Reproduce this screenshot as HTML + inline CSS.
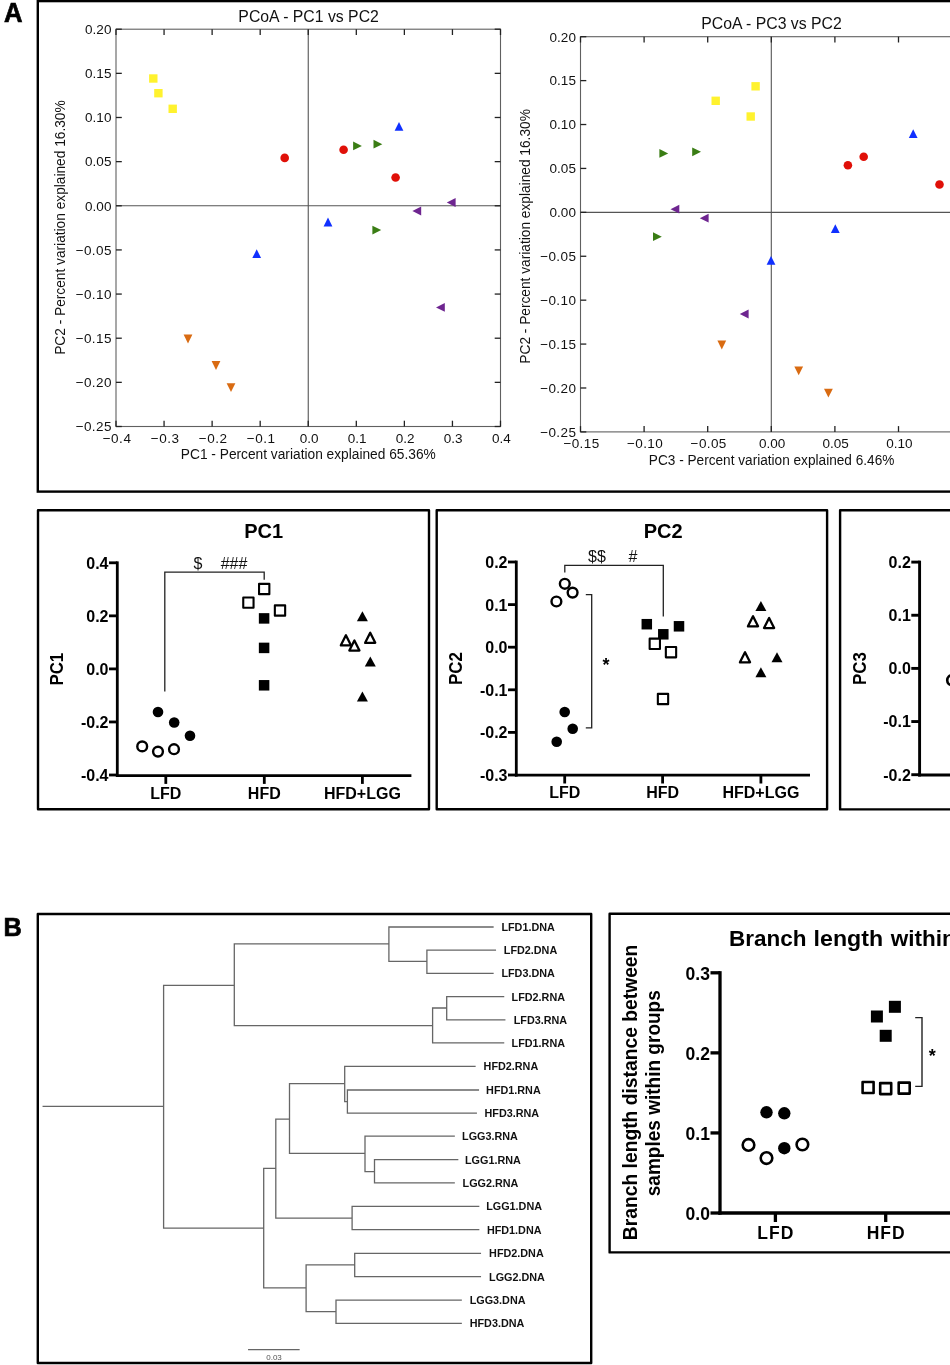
<!DOCTYPE html>
<html><head><meta charset="utf-8"><style>
html,body{margin:0;padding:0;background:#fff;width:950px;height:1365px;overflow:hidden}
svg{display:block;will-change:transform}
text{font-family:"Liberation Sans", sans-serif;fill:#000;-webkit-font-smoothing:antialiased}
.mt{font-size:13.5px;fill:#111}
.ml{font-size:14px;fill:#111}
.mtitle{font-size:15.8px;fill:#111}
.plabel{font-size:26.5px;font-weight:bold;stroke:#000;stroke-width:0.7px}
.pt{font-size:16px;font-weight:bold}
.pyl{font-size:17.5px;font-weight:bold}
.ptitle{font-size:20px;font-weight:bold}
.sig{font-size:16px;fill:#111}
.sig2{font-size:18px;fill:#000;font-weight:bold}
.leaf{font-size:10.8px;font-weight:bold;fill:#111}
.scl{font-size:8px;fill:#555}
.bt{font-size:17.5px;font-weight:bold}
.btitle{font-size:22.5px;font-weight:bold}
.byl{font-size:20.5px;font-weight:bold}
</style></head><body>
<svg width="950" height="1365" viewBox="0 0 950 1365">
<rect width="950" height="1365" fill="#fff"/>
<rect x="37.8" y="1.1" width="940" height="490.5" fill="none" stroke="#000" stroke-width="2.4"/>
<text x="4.0" y="21.5" class="plabel" textLength="18.5" lengthAdjust="spacingAndGlyphs" style="font-size:27.2px">A</text>
<rect x="116" y="29.2" width="384.5" height="397.3" fill="none" stroke="#606060" stroke-width="1.1"/>
<line x1="308.25" y1="29.2" x2="308.25" y2="426.5" stroke="#555" stroke-width="1.1"/>
<line x1="116" y1="205.77777777777777" x2="500.5" y2="205.77777777777777" stroke="#555" stroke-width="1.1"/>
<line x1="116.0" y1="426.5" x2="116.0" y2="420.7" stroke="#222" stroke-width="1.3"/>
<line x1="116.0" y1="29.2" x2="116.0" y2="35.0" stroke="#222" stroke-width="1.3"/>
<line x1="164.0625" y1="426.5" x2="164.0625" y2="420.7" stroke="#222" stroke-width="1.3"/>
<line x1="164.0625" y1="29.2" x2="164.0625" y2="35.0" stroke="#222" stroke-width="1.3"/>
<line x1="212.125" y1="426.5" x2="212.125" y2="420.7" stroke="#222" stroke-width="1.3"/>
<line x1="212.125" y1="29.2" x2="212.125" y2="35.0" stroke="#222" stroke-width="1.3"/>
<line x1="260.1875" y1="426.5" x2="260.1875" y2="420.7" stroke="#222" stroke-width="1.3"/>
<line x1="260.1875" y1="29.2" x2="260.1875" y2="35.0" stroke="#222" stroke-width="1.3"/>
<line x1="308.25" y1="426.5" x2="308.25" y2="420.7" stroke="#222" stroke-width="1.3"/>
<line x1="308.25" y1="29.2" x2="308.25" y2="35.0" stroke="#222" stroke-width="1.3"/>
<line x1="356.3125" y1="426.5" x2="356.3125" y2="420.7" stroke="#222" stroke-width="1.3"/>
<line x1="356.3125" y1="29.2" x2="356.3125" y2="35.0" stroke="#222" stroke-width="1.3"/>
<line x1="404.375" y1="426.5" x2="404.375" y2="420.7" stroke="#222" stroke-width="1.3"/>
<line x1="404.375" y1="29.2" x2="404.375" y2="35.0" stroke="#222" stroke-width="1.3"/>
<line x1="452.4375" y1="426.5" x2="452.4375" y2="420.7" stroke="#222" stroke-width="1.3"/>
<line x1="452.4375" y1="29.2" x2="452.4375" y2="35.0" stroke="#222" stroke-width="1.3"/>
<line x1="500.5" y1="426.5" x2="500.5" y2="420.7" stroke="#222" stroke-width="1.3"/>
<line x1="500.5" y1="29.2" x2="500.5" y2="35.0" stroke="#222" stroke-width="1.3"/>
<line x1="116" y1="29.2" x2="121.8" y2="29.2" stroke="#222" stroke-width="1.3"/>
<line x1="500.5" y1="29.2" x2="494.7" y2="29.2" stroke="#222" stroke-width="1.3"/>
<line x1="116" y1="73.34444444444445" x2="121.8" y2="73.34444444444445" stroke="#222" stroke-width="1.3"/>
<line x1="500.5" y1="73.34444444444445" x2="494.7" y2="73.34444444444445" stroke="#222" stroke-width="1.3"/>
<line x1="116" y1="117.4888888888889" x2="121.8" y2="117.4888888888889" stroke="#222" stroke-width="1.3"/>
<line x1="500.5" y1="117.4888888888889" x2="494.7" y2="117.4888888888889" stroke="#222" stroke-width="1.3"/>
<line x1="116" y1="161.63333333333333" x2="121.8" y2="161.63333333333333" stroke="#222" stroke-width="1.3"/>
<line x1="500.5" y1="161.63333333333333" x2="494.7" y2="161.63333333333333" stroke="#222" stroke-width="1.3"/>
<line x1="116" y1="205.77777777777777" x2="121.8" y2="205.77777777777777" stroke="#222" stroke-width="1.3"/>
<line x1="500.5" y1="205.77777777777777" x2="494.7" y2="205.77777777777777" stroke="#222" stroke-width="1.3"/>
<line x1="116" y1="249.92222222222222" x2="121.8" y2="249.92222222222222" stroke="#222" stroke-width="1.3"/>
<line x1="500.5" y1="249.92222222222222" x2="494.7" y2="249.92222222222222" stroke="#222" stroke-width="1.3"/>
<line x1="116" y1="294.06666666666666" x2="121.8" y2="294.06666666666666" stroke="#222" stroke-width="1.3"/>
<line x1="500.5" y1="294.06666666666666" x2="494.7" y2="294.06666666666666" stroke="#222" stroke-width="1.3"/>
<line x1="116" y1="338.2111111111111" x2="121.8" y2="338.2111111111111" stroke="#222" stroke-width="1.3"/>
<line x1="500.5" y1="338.2111111111111" x2="494.7" y2="338.2111111111111" stroke="#222" stroke-width="1.3"/>
<line x1="116" y1="382.35555555555555" x2="121.8" y2="382.35555555555555" stroke="#222" stroke-width="1.3"/>
<line x1="500.5" y1="382.35555555555555" x2="494.7" y2="382.35555555555555" stroke="#222" stroke-width="1.3"/>
<line x1="116" y1="426.5" x2="121.8" y2="426.5" stroke="#222" stroke-width="1.3"/>
<line x1="500.5" y1="426.5" x2="494.7" y2="426.5" stroke="#222" stroke-width="1.3"/>
<text x="116.8" y="442.5" text-anchor="middle" class="mt" textLength="28.25" lengthAdjust="spacing">−0.4</text>
<text x="164.8625" y="442.5" text-anchor="middle" class="mt" textLength="28.25" lengthAdjust="spacing">−0.3</text>
<text x="212.925" y="442.5" text-anchor="middle" class="mt" textLength="28.25" lengthAdjust="spacing">−0.2</text>
<text x="260.9875" y="442.5" text-anchor="middle" class="mt" textLength="28.25" lengthAdjust="spacing">−0.1</text>
<text x="309.05" y="442.5" text-anchor="middle" class="mt">0.0</text>
<text x="357.1125" y="442.5" text-anchor="middle" class="mt">0.1</text>
<text x="405.175" y="442.5" text-anchor="middle" class="mt">0.2</text>
<text x="453.2375" y="442.5" text-anchor="middle" class="mt">0.3</text>
<text x="501.3" y="442.5" text-anchor="middle" class="mt">0.4</text>
<text x="111.4" y="34.0" text-anchor="end" class="mt">0.20</text>
<text x="111.4" y="78.14444444444445" text-anchor="end" class="mt">0.15</text>
<text x="111.4" y="122.28888888888889" text-anchor="end" class="mt">0.10</text>
<text x="111.4" y="166.43333333333334" text-anchor="end" class="mt">0.05</text>
<text x="111.4" y="210.57777777777778" text-anchor="end" class="mt">0.00</text>
<text x="111.4" y="254.72222222222223" text-anchor="end" class="mt" textLength="35.76" lengthAdjust="spacing">−0.05</text>
<text x="111.4" y="298.8666666666667" text-anchor="end" class="mt" textLength="35.76" lengthAdjust="spacing">−0.10</text>
<text x="111.4" y="343.0111111111111" text-anchor="end" class="mt" textLength="35.76" lengthAdjust="spacing">−0.15</text>
<text x="111.4" y="387.15555555555557" text-anchor="end" class="mt" textLength="35.76" lengthAdjust="spacing">−0.20</text>
<text x="111.4" y="431.3" text-anchor="end" class="mt" textLength="35.76" lengthAdjust="spacing">−0.25</text>
<text x="308.6" y="21.6" text-anchor="middle" class="mtitle">PCoA - PC1 vs PC2</text>
<text x="308.3" y="458.6" text-anchor="middle" class="ml" textLength="255" lengthAdjust="spacingAndGlyphs">PC1 - Percent variation explained 65.36%</text>
<text x="64.7" y="227.6" text-anchor="middle" class="ml" textLength="254.5" lengthAdjust="spacingAndGlyphs" transform="rotate(-90 64.7 227.6)">PC2 - Percent variation explained 16.30%</text>
<rect x="149.10" y="74.30" width="8.4" height="8.4" fill="#fff22e"/>
<rect x="154.20" y="89.00" width="8.4" height="8.4" fill="#fff22e"/>
<rect x="168.50" y="104.60" width="8.4" height="8.4" fill="#fff22e"/>
<circle cx="284.7" cy="157.9" r="4.3" fill="#e01008"/>
<circle cx="343.6" cy="149.7" r="4.3" fill="#e01008"/>
<circle cx="395.6" cy="177.5" r="4.3" fill="#e01008"/>
<polygon points="361.90,145.90 353.10,141.50 353.10,150.30" fill="#3a7d14"/>
<polygon points="382.30,144.20 373.50,139.80 373.50,148.60" fill="#3a7d14"/>
<polygon points="381.20,230.10 372.40,225.70 372.40,234.50" fill="#3a7d14"/>
<polygon points="399.00,121.90 394.60,130.70 403.40,130.70" fill="#1030ff"/>
<polygon points="328.00,217.60 323.60,226.40 332.40,226.40" fill="#1030ff"/>
<polygon points="256.70,249.30 252.30,258.10 261.10,258.10" fill="#1030ff"/>
<polygon points="446.80,202.50 455.60,198.10 455.60,206.90" fill="#6e2590"/>
<polygon points="412.40,211.00 421.20,206.60 421.20,215.40" fill="#6e2590"/>
<polygon points="436.00,307.40 444.80,303.00 444.80,311.80" fill="#6e2590"/>
<polygon points="188.00,343.40 183.60,334.60 192.40,334.60" fill="#d96b12"/>
<polygon points="216.00,369.90 211.60,361.10 220.40,361.10" fill="#d96b12"/>
<polygon points="231.00,392.10 226.60,383.30 235.40,383.30" fill="#d96b12"/>
<rect x="580.5" y="36.7" width="381.6" height="395.2" fill="none" stroke="#606060" stroke-width="1.1"/>
<line x1="771.3" y1="36.7" x2="771.3" y2="431.9" stroke="#555" stroke-width="1.1"/>
<line x1="580.5" y1="212.34444444444443" x2="962.1" y2="212.34444444444443" stroke="#555" stroke-width="1.1"/>
<line x1="580.5" y1="431.9" x2="580.5" y2="426.09999999999997" stroke="#222" stroke-width="1.3"/>
<line x1="580.5" y1="36.7" x2="580.5" y2="42.5" stroke="#222" stroke-width="1.3"/>
<line x1="644.1" y1="431.9" x2="644.1" y2="426.09999999999997" stroke="#222" stroke-width="1.3"/>
<line x1="644.1" y1="36.7" x2="644.1" y2="42.5" stroke="#222" stroke-width="1.3"/>
<line x1="707.7" y1="431.9" x2="707.7" y2="426.09999999999997" stroke="#222" stroke-width="1.3"/>
<line x1="707.7" y1="36.7" x2="707.7" y2="42.5" stroke="#222" stroke-width="1.3"/>
<line x1="771.3" y1="431.9" x2="771.3" y2="426.09999999999997" stroke="#222" stroke-width="1.3"/>
<line x1="771.3" y1="36.7" x2="771.3" y2="42.5" stroke="#222" stroke-width="1.3"/>
<line x1="834.9" y1="431.9" x2="834.9" y2="426.09999999999997" stroke="#222" stroke-width="1.3"/>
<line x1="834.9" y1="36.7" x2="834.9" y2="42.5" stroke="#222" stroke-width="1.3"/>
<line x1="898.5" y1="431.9" x2="898.5" y2="426.09999999999997" stroke="#222" stroke-width="1.3"/>
<line x1="898.5" y1="36.7" x2="898.5" y2="42.5" stroke="#222" stroke-width="1.3"/>
<line x1="962.1" y1="431.9" x2="962.1" y2="426.09999999999997" stroke="#222" stroke-width="1.3"/>
<line x1="962.1" y1="36.7" x2="962.1" y2="42.5" stroke="#222" stroke-width="1.3"/>
<line x1="580.5" y1="36.7" x2="586.3" y2="36.7" stroke="#222" stroke-width="1.3"/>
<line x1="962.1" y1="36.7" x2="956.3000000000001" y2="36.7" stroke="#222" stroke-width="1.3"/>
<line x1="580.5" y1="80.61111111111111" x2="586.3" y2="80.61111111111111" stroke="#222" stroke-width="1.3"/>
<line x1="962.1" y1="80.61111111111111" x2="956.3000000000001" y2="80.61111111111111" stroke="#222" stroke-width="1.3"/>
<line x1="580.5" y1="124.52222222222223" x2="586.3" y2="124.52222222222223" stroke="#222" stroke-width="1.3"/>
<line x1="962.1" y1="124.52222222222223" x2="956.3000000000001" y2="124.52222222222223" stroke="#222" stroke-width="1.3"/>
<line x1="580.5" y1="168.43333333333334" x2="586.3" y2="168.43333333333334" stroke="#222" stroke-width="1.3"/>
<line x1="962.1" y1="168.43333333333334" x2="956.3000000000001" y2="168.43333333333334" stroke="#222" stroke-width="1.3"/>
<line x1="580.5" y1="212.34444444444443" x2="586.3" y2="212.34444444444443" stroke="#222" stroke-width="1.3"/>
<line x1="962.1" y1="212.34444444444443" x2="956.3000000000001" y2="212.34444444444443" stroke="#222" stroke-width="1.3"/>
<line x1="580.5" y1="256.25555555555553" x2="586.3" y2="256.25555555555553" stroke="#222" stroke-width="1.3"/>
<line x1="962.1" y1="256.25555555555553" x2="956.3000000000001" y2="256.25555555555553" stroke="#222" stroke-width="1.3"/>
<line x1="580.5" y1="300.16666666666663" x2="586.3" y2="300.16666666666663" stroke="#222" stroke-width="1.3"/>
<line x1="962.1" y1="300.16666666666663" x2="956.3000000000001" y2="300.16666666666663" stroke="#222" stroke-width="1.3"/>
<line x1="580.5" y1="344.0777777777778" x2="586.3" y2="344.0777777777778" stroke="#222" stroke-width="1.3"/>
<line x1="962.1" y1="344.0777777777778" x2="956.3000000000001" y2="344.0777777777778" stroke="#222" stroke-width="1.3"/>
<line x1="580.5" y1="387.9888888888889" x2="586.3" y2="387.9888888888889" stroke="#222" stroke-width="1.3"/>
<line x1="962.1" y1="387.9888888888889" x2="956.3000000000001" y2="387.9888888888889" stroke="#222" stroke-width="1.3"/>
<line x1="580.5" y1="431.9" x2="586.3" y2="431.9" stroke="#222" stroke-width="1.3"/>
<line x1="962.1" y1="431.9" x2="956.3000000000001" y2="431.9" stroke="#222" stroke-width="1.3"/>
<text x="581.3" y="447.9" text-anchor="middle" class="mt" textLength="35.76" lengthAdjust="spacing">−0.15</text>
<text x="644.9" y="447.9" text-anchor="middle" class="mt" textLength="35.76" lengthAdjust="spacing">−0.10</text>
<text x="708.5" y="447.9" text-anchor="middle" class="mt" textLength="35.76" lengthAdjust="spacing">−0.05</text>
<text x="772.0999999999999" y="447.9" text-anchor="middle" class="mt">0.00</text>
<text x="835.6999999999999" y="447.9" text-anchor="middle" class="mt">0.05</text>
<text x="899.3" y="447.9" text-anchor="middle" class="mt">0.10</text>
<text x="962.9" y="447.9" text-anchor="middle" class="mt">0.15</text>
<text x="575.9" y="41.5" text-anchor="end" class="mt">0.20</text>
<text x="575.9" y="85.41111111111111" text-anchor="end" class="mt">0.15</text>
<text x="575.9" y="129.32222222222222" text-anchor="end" class="mt">0.10</text>
<text x="575.9" y="173.23333333333335" text-anchor="end" class="mt">0.05</text>
<text x="575.9" y="217.14444444444445" text-anchor="end" class="mt">0.00</text>
<text x="575.9" y="261.05555555555554" text-anchor="end" class="mt" textLength="35.76" lengthAdjust="spacing">−0.05</text>
<text x="575.9" y="304.96666666666664" text-anchor="end" class="mt" textLength="35.76" lengthAdjust="spacing">−0.10</text>
<text x="575.9" y="348.8777777777778" text-anchor="end" class="mt" textLength="35.76" lengthAdjust="spacing">−0.15</text>
<text x="575.9" y="392.7888888888889" text-anchor="end" class="mt" textLength="35.76" lengthAdjust="spacing">−0.20</text>
<text x="575.9" y="436.7" text-anchor="end" class="mt" textLength="35.76" lengthAdjust="spacing">−0.25</text>
<text x="771.5" y="29.3" text-anchor="middle" class="mtitle">PCoA - PC3 vs PC2</text>
<text x="771.6" y="465.2" text-anchor="middle" class="ml" textLength="245.5" lengthAdjust="spacingAndGlyphs">PC3 - Percent variation explained 6.46%</text>
<text x="529.9" y="236.4" text-anchor="middle" class="ml" textLength="254.5" lengthAdjust="spacingAndGlyphs" transform="rotate(-90 529.9 236.4)">PC2 - Percent variation explained 16.30%</text>
<rect x="751.40" y="82.10" width="8.4" height="8.4" fill="#fff22e"/>
<rect x="711.50" y="96.60" width="8.4" height="8.4" fill="#fff22e"/>
<rect x="746.50" y="112.30" width="8.4" height="8.4" fill="#fff22e"/>
<polygon points="668.20,153.40 659.40,149.00 659.40,157.80" fill="#3a7d14"/>
<polygon points="701.00,151.80 692.20,147.40 692.20,156.20" fill="#3a7d14"/>
<polygon points="661.80,236.70 653.00,232.30 653.00,241.10" fill="#3a7d14"/>
<polygon points="670.50,209.20 679.30,204.80 679.30,213.60" fill="#6e2590"/>
<polygon points="699.80,218.20 708.60,213.80 708.60,222.60" fill="#6e2590"/>
<polygon points="739.80,314.00 748.60,309.60 748.60,318.40" fill="#6e2590"/>
<polygon points="913.20,129.30 908.80,138.10 917.60,138.10" fill="#1030ff"/>
<polygon points="835.30,224.30 830.90,233.10 839.70,233.10" fill="#1030ff"/>
<polygon points="771.00,255.90 766.60,264.70 775.40,264.70" fill="#1030ff"/>
<circle cx="847.9" cy="165.3" r="4.3" fill="#e01008"/>
<circle cx="863.7" cy="156.8" r="4.3" fill="#e01008"/>
<circle cx="939.5" cy="184.5" r="4.3" fill="#e01008"/>
<polygon points="721.80,349.40 717.40,340.60 726.20,340.60" fill="#d96b12"/>
<polygon points="798.70,375.20 794.30,366.40 803.10,366.40" fill="#d96b12"/>
<polygon points="828.40,397.60 824.00,388.80 832.80,388.80" fill="#d96b12"/>
<rect x="38.0" y="510.3" width="391.0" height="299.0" fill="none" stroke="#000" stroke-width="2.4" stroke-linejoin="round"/>
<rect x="436.7" y="510.3" width="390.4" height="299.0" fill="none" stroke="#000" stroke-width="2.4" stroke-linejoin="round"/>
<rect x="840.1" y="510.3" width="158.70000000000002" height="299.1" fill="none" stroke="#000" stroke-width="2.4" stroke-linejoin="round"/>
<line x1="117.3" y1="561.4" x2="117.3" y2="777.0" stroke="#000" stroke-width="2.8"/>
<line x1="115.89999999999999" y1="775.6" x2="411.4" y2="775.6" stroke="#000" stroke-width="2.8"/>
<line x1="109.0" y1="562.8" x2="117.3" y2="562.8" stroke="#000" stroke-width="2.8"/>
<text x="108.5" y="568.6999999999999" text-anchor="end" class="pt">0.4</text>
<line x1="109.0" y1="615.8499999999999" x2="117.3" y2="615.8499999999999" stroke="#000" stroke-width="2.8"/>
<text x="108.5" y="621.7499999999999" text-anchor="end" class="pt">0.2</text>
<line x1="109.0" y1="668.9" x2="117.3" y2="668.9" stroke="#000" stroke-width="2.8"/>
<text x="108.5" y="674.8" text-anchor="end" class="pt">0.0</text>
<line x1="109.0" y1="721.9499999999999" x2="117.3" y2="721.9499999999999" stroke="#000" stroke-width="2.8"/>
<text x="108.5" y="727.8499999999999" text-anchor="end" class="pt">-0.2</text>
<line x1="109.0" y1="775.0" x2="117.3" y2="775.0" stroke="#000" stroke-width="2.8"/>
<text x="108.5" y="780.9" text-anchor="end" class="pt">-0.4</text>
<line x1="165.8" y1="775.6" x2="165.8" y2="783.9" stroke="#000" stroke-width="2.8"/>
<text x="165.8" y="798.8000000000001" text-anchor="middle" class="pt">LFD</text>
<line x1="264.3" y1="775.6" x2="264.3" y2="783.9" stroke="#000" stroke-width="2.8"/>
<text x="264.3" y="798.8000000000001" text-anchor="middle" class="pt">HFD</text>
<line x1="362.4" y1="775.6" x2="362.4" y2="783.9" stroke="#000" stroke-width="2.8"/>
<text x="362.4" y="798.8000000000001" text-anchor="middle" class="pt">HFD+LGG</text>
<text x="63.5" y="669.2" text-anchor="middle" class="pyl" textLength="32.8" lengthAdjust="spacingAndGlyphs" transform="rotate(-90 63.5 669.2)">PC1</text>
<text x="263.6" y="538.4" text-anchor="middle" class="ptitle">PC1</text>
<circle cx="158" cy="712" r="5.3" fill="#000"/>
<circle cx="174.2" cy="722.5" r="5.3" fill="#000"/>
<circle cx="190" cy="735.8" r="5.3" fill="#000"/>
<circle cx="142.2" cy="746.4" r="4.8999999999999995" fill="#fff" stroke="#000" stroke-width="2.4"/>
<circle cx="158" cy="751.6" r="4.8999999999999995" fill="#fff" stroke="#000" stroke-width="2.4"/>
<circle cx="174" cy="749.2" r="4.8999999999999995" fill="#fff" stroke="#000" stroke-width="2.4"/>
<rect x="259.05" y="583.85" width="10.3" height="10.3" fill="#fff" stroke="#000" stroke-width="2.1" stroke-linejoin="round"/>
<rect x="243.25" y="597.45" width="10.3" height="10.3" fill="#fff" stroke="#000" stroke-width="2.1" stroke-linejoin="round"/>
<rect x="274.85" y="605.35" width="10.3" height="10.3" fill="#fff" stroke="#000" stroke-width="2.1" stroke-linejoin="round"/>
<rect x="258.85" y="613.15" width="10.5" height="10.5" fill="#000"/>
<rect x="258.85" y="642.65" width="10.5" height="10.5" fill="#000"/>
<rect x="258.85" y="680.05" width="10.5" height="10.5" fill="#000"/>
<polygon points="362.40,611.30 356.90,621.30 367.90,621.30" fill="#000"/>
<polygon points="370.30,656.60 364.80,666.60 375.80,666.60" fill="#000"/>
<polygon points="362.40,691.60 356.90,701.60 367.90,701.60" fill="#000"/>
<polygon points="345.90,635.25 340.85,645.35 350.95,645.35" fill="#fff" stroke="#000" stroke-width="2.3" stroke-linejoin="round"/>
<polygon points="354.40,640.45 349.35,650.55 359.45,650.55" fill="#fff" stroke="#000" stroke-width="2.3" stroke-linejoin="round"/>
<polygon points="370.20,632.75 365.15,642.85 375.25,642.85" fill="#fff" stroke="#000" stroke-width="2.3" stroke-linejoin="round"/>
<polyline points="164.8,691.6 164.8,572.2 264.2,572.2 264.2,579.8" fill="none" stroke="#222" stroke-width="1.3"/>
<text x="198" y="568.8" text-anchor="middle" class="sig">$</text>
<text x="234" y="568.8" text-anchor="middle" class="sig">###</text>
<line x1="516.3" y1="560.6" x2="516.3" y2="776.6" stroke="#000" stroke-width="2.8"/>
<line x1="514.9" y1="775.2" x2="810" y2="775.2" stroke="#000" stroke-width="2.8"/>
<line x1="507.99999999999994" y1="562.0" x2="516.3" y2="562.0" stroke="#000" stroke-width="2.8"/>
<text x="507.49999999999994" y="567.9" text-anchor="end" class="pt">0.2</text>
<line x1="507.99999999999994" y1="604.6" x2="516.3" y2="604.6" stroke="#000" stroke-width="2.8"/>
<text x="507.49999999999994" y="610.5" text-anchor="end" class="pt">0.1</text>
<line x1="507.99999999999994" y1="647.2" x2="516.3" y2="647.2" stroke="#000" stroke-width="2.8"/>
<text x="507.49999999999994" y="653.1" text-anchor="end" class="pt">0.0</text>
<line x1="507.99999999999994" y1="689.8" x2="516.3" y2="689.8" stroke="#000" stroke-width="2.8"/>
<text x="507.49999999999994" y="695.6999999999999" text-anchor="end" class="pt">-0.1</text>
<line x1="507.99999999999994" y1="732.4" x2="516.3" y2="732.4" stroke="#000" stroke-width="2.8"/>
<text x="507.49999999999994" y="738.3" text-anchor="end" class="pt">-0.2</text>
<line x1="507.99999999999994" y1="775.0" x2="516.3" y2="775.0" stroke="#000" stroke-width="2.8"/>
<text x="507.49999999999994" y="780.9" text-anchor="end" class="pt">-0.3</text>
<line x1="564.7" y1="775.2" x2="564.7" y2="783.5" stroke="#000" stroke-width="2.8"/>
<text x="564.7" y="798.4000000000001" text-anchor="middle" class="pt">LFD</text>
<line x1="662.6" y1="775.2" x2="662.6" y2="783.5" stroke="#000" stroke-width="2.8"/>
<text x="662.6" y="798.4000000000001" text-anchor="middle" class="pt">HFD</text>
<line x1="760.9" y1="775.2" x2="760.9" y2="783.5" stroke="#000" stroke-width="2.8"/>
<text x="760.9" y="798.4000000000001" text-anchor="middle" class="pt">HFD+LGG</text>
<text x="462.5" y="668.6" text-anchor="middle" class="pyl" textLength="32.8" lengthAdjust="spacingAndGlyphs" transform="rotate(-90 462.5 668.6)">PC2</text>
<text x="663.2" y="538.4" text-anchor="middle" class="ptitle">PC2</text>
<circle cx="564.8" cy="583.8" r="4.8999999999999995" fill="#fff" stroke="#000" stroke-width="2.4"/>
<circle cx="572.6" cy="592.6" r="4.8999999999999995" fill="#fff" stroke="#000" stroke-width="2.4"/>
<circle cx="556.4" cy="601.5" r="4.8999999999999995" fill="#fff" stroke="#000" stroke-width="2.4"/>
<circle cx="564.7" cy="712" r="5.3" fill="#000"/>
<circle cx="572.7" cy="728.8" r="5.3" fill="#000"/>
<circle cx="556.7" cy="741.7" r="5.3" fill="#000"/>
<rect x="641.55" y="618.95" width="10.5" height="10.5" fill="#000"/>
<rect x="658.05" y="629.05" width="10.5" height="10.5" fill="#000"/>
<rect x="673.75" y="621.05" width="10.5" height="10.5" fill="#000"/>
<rect x="649.65" y="638.65" width="10.3" height="10.3" fill="#fff" stroke="#000" stroke-width="2.1" stroke-linejoin="round"/>
<rect x="665.85" y="647.05" width="10.3" height="10.3" fill="#fff" stroke="#000" stroke-width="2.1" stroke-linejoin="round"/>
<rect x="657.85" y="693.85" width="10.3" height="10.3" fill="#fff" stroke="#000" stroke-width="2.1" stroke-linejoin="round"/>
<polygon points="760.90,601.00 755.40,611.00 766.40,611.00" fill="#000"/>
<polygon points="777.00,652.30 771.50,662.30 782.50,662.30" fill="#000"/>
<polygon points="760.90,667.30 755.40,677.30 766.40,677.30" fill="#000"/>
<polygon points="753.00,616.25 747.95,626.35 758.05,626.35" fill="#fff" stroke="#000" stroke-width="2.3" stroke-linejoin="round"/>
<polygon points="769.10,617.95 764.05,628.05 774.15,628.05" fill="#fff" stroke="#000" stroke-width="2.3" stroke-linejoin="round"/>
<polygon points="745.00,652.25 739.95,662.35 750.05,662.35" fill="#fff" stroke="#000" stroke-width="2.3" stroke-linejoin="round"/>
<polyline points="564.8,572.6 564.8,565.3 663.3,565.3 663.3,616.4" fill="none" stroke="#222" stroke-width="1.3"/>
<polyline points="585.8,594.7 591.7,594.7 591.7,727.8 585.8,727.8" fill="none" stroke="#222" stroke-width="1.3"/>
<text x="597" y="561.5" text-anchor="middle" class="sig">$$</text>
<text x="633" y="561.5" text-anchor="middle" class="sig">#</text>
<text x="605.9" y="670.6" text-anchor="middle" class="sig2">*</text>
<line x1="919.6" y1="560.65" x2="919.6" y2="776.45" stroke="#000" stroke-width="2.9"/>
<line x1="918.15" y1="775.0" x2="1000" y2="775.0" stroke="#000" stroke-width="2.9"/>
<line x1="911.3000000000001" y1="562.1" x2="919.6" y2="562.1" stroke="#000" stroke-width="2.9"/>
<text x="910.8000000000001" y="568.0" text-anchor="end" class="pt">0.2</text>
<line x1="911.3000000000001" y1="615.25" x2="919.6" y2="615.25" stroke="#000" stroke-width="2.9"/>
<text x="910.8000000000001" y="621.15" text-anchor="end" class="pt">0.1</text>
<line x1="911.3000000000001" y1="668.4" x2="919.6" y2="668.4" stroke="#000" stroke-width="2.9"/>
<text x="910.8000000000001" y="674.3" text-anchor="end" class="pt">0.0</text>
<line x1="911.3000000000001" y1="721.55" x2="919.6" y2="721.55" stroke="#000" stroke-width="2.9"/>
<text x="910.8000000000001" y="727.4499999999999" text-anchor="end" class="pt">-0.1</text>
<line x1="911.3000000000001" y1="774.7" x2="919.6" y2="774.7" stroke="#000" stroke-width="2.9"/>
<text x="910.8000000000001" y="780.6" text-anchor="end" class="pt">-0.2</text>
<text x="866.5" y="668.55" text-anchor="middle" class="pyl" textLength="32.8" lengthAdjust="spacingAndGlyphs" transform="rotate(-90 866.5 668.55)">PC3</text>
<text x="0" y="538.4" text-anchor="middle" class="ptitle"></text>
<circle cx="952.2" cy="680.2" r="5.0" fill="#fff" stroke="#000" stroke-width="2.6"/>
<text x="3.6" y="935.7" class="plabel" textLength="18.3" lengthAdjust="spacingAndGlyphs">B</text>
<rect x="37.800000000000004" y="914.0" width="553.4" height="449.0000000000001" fill="none" stroke="#000" stroke-width="2.4" stroke-linejoin="round"/>
<rect x="609.6" y="913.8000000000001" width="389.20000000000005" height="338.5999999999999" fill="none" stroke="#000" stroke-width="2.4" stroke-linejoin="round"/>
<path d="M43.2 1106.4H163.6 M163.6 985.3V1228.2 M163.6 985.3H234.3 M234.3 943.8V1025.6 M234.3 943.8H388.9 M388.9 927V961.4 M388.9 927H493 M388.9 961.4H426.9 M426.9 950.2V973.4 M426.9 950.2H495.4 M426.9 973.4H493 M234.3 1025.6H432.6 M432.6 1008V1042.8 M432.6 1008H446.7 M446.7 996.6V1019.8 M446.7 996.6H503.6 M446.7 1019.8H504.8 M432.6 1042.8H503.6 M163.6 1228.2H263.7 M263.7 1168.4V1287.9 M263.7 1168.4H275.8 M275.8 1119.2V1218.2 M275.8 1119.2H289.5 M289.5 1083.7V1153.4 M289.5 1083.7H344.7 M344.7 1066.3V1101.6 M344.7 1066.3H475 M344.7 1101.6H347.4 M347.4 1090V1113.2 M347.4 1090H478.4 M347.4 1113.2H476.3 M289.5 1153.4H365 M365 1136.2V1171.6 M365 1136.2H454.2 M365 1171.6H374.5 M374.5 1159.6V1182.9 M374.5 1159.6H457.7 M374.5 1182.9H454.2 M275.8 1218.2H352.1 M352.1 1206.3V1229.6 M352.1 1206.3H478.7 M352.1 1229.6H478.7 M263.7 1287.9H306.1 M306.1 1264.8V1311.6 M306.1 1264.8H354.7 M354.7 1253.4V1276.6 M354.7 1253.4H480.4 M354.7 1276.6H480.4 M306.1 1311.6H336 M336 1300.1V1323.4 M336 1300.1H461.2 M336 1323.4H461.2 M248.7 1349.7H299" fill="none" stroke="#666" stroke-width="1.3" stroke-linecap="square"/>
<text x="501.4" y="931" class="leaf">LFD1.DNA</text>
<text x="503.79999999999995" y="954.2" class="leaf">LFD2.DNA</text>
<text x="501.4" y="977.4" class="leaf">LFD3.DNA</text>
<text x="511.6" y="1000.6" class="leaf">LFD2.RNA</text>
<text x="513.6999999999999" y="1023.8" class="leaf">LFD3.RNA</text>
<text x="511.6" y="1046.8" class="leaf">LFD1.RNA</text>
<text x="483.59999999999997" y="1070.3" class="leaf">HFD2.RNA</text>
<text x="486.09999999999997" y="1094" class="leaf">HFD1.RNA</text>
<text x="484.5" y="1117.2" class="leaf">HFD3.RNA</text>
<text x="462.09999999999997" y="1140.2" class="leaf">LGG3.RNA</text>
<text x="465.0" y="1163.6" class="leaf">LGG1.RNA</text>
<text x="462.59999999999997" y="1186.9" class="leaf">LGG2.RNA</text>
<text x="486.2" y="1210.3" class="leaf">LGG1.DNA</text>
<text x="486.9" y="1233.6" class="leaf">HFD1.DNA</text>
<text x="489.09999999999997" y="1257.4" class="leaf">HFD2.DNA</text>
<text x="489.09999999999997" y="1280.6" class="leaf">LGG2.DNA</text>
<text x="469.7" y="1304.1" class="leaf">LGG3.DNA</text>
<text x="469.7" y="1327.4" class="leaf">HFD3.DNA</text>
<text x="274" y="1359.6" text-anchor="middle" class="scl">0.03</text>
<line x1="720.0" y1="971.15" x2="720.0" y2="1214.65" stroke="#000" stroke-width="3.3"/>
<line x1="718.35" y1="1213" x2="1000" y2="1213" stroke="#000" stroke-width="3.3"/>
<line x1="710.5" y1="972.8" x2="720.0" y2="972.8" stroke="#000" stroke-width="3.3"/>
<text x="709.9" y="979.8" text-anchor="end" class="bt">0.3</text>
<line x1="710.5" y1="1052.87" x2="720.0" y2="1052.87" stroke="#000" stroke-width="3.3"/>
<text x="709.9" y="1059.87" text-anchor="end" class="bt">0.2</text>
<line x1="710.5" y1="1132.94" x2="720.0" y2="1132.94" stroke="#000" stroke-width="3.3"/>
<text x="709.9" y="1139.94" text-anchor="end" class="bt">0.1</text>
<line x1="710.5" y1="1213.01" x2="720.0" y2="1213.01" stroke="#000" stroke-width="3.3"/>
<text x="709.9" y="1220.01" text-anchor="end" class="bt">0.0</text>
<line x1="775.4" y1="1213" x2="775.4" y2="1222" stroke="#000" stroke-width="3.3"/>
<text x="775.4" y="1239" text-anchor="middle" class="bt" textLength="36.1" lengthAdjust="spacing">LFD</text>
<line x1="885.7" y1="1213" x2="885.7" y2="1222" stroke="#000" stroke-width="3.3"/>
<text x="885.7" y="1239" text-anchor="middle" class="bt" textLength="37.9" lengthAdjust="spacing">HFD</text>
<text x="729" y="945.8" class="btitle">Branch</text>
<text x="813.6" y="945.8" class="btitle" textLength="69.5" lengthAdjust="spacingAndGlyphs">length</text>
<text x="890.8" y="945.8" class="btitle">within groups</text>
<text x="637.4" y="1092.4" text-anchor="middle" class="byl" textLength="295.5" lengthAdjust="spacingAndGlyphs" transform="rotate(-90 637.4 1092.4)">Branch length distance between</text>
<text x="659.8" y="1093.2" text-anchor="middle" class="byl" textLength="206" lengthAdjust="spacingAndGlyphs" transform="rotate(-90 659.8 1093.2)">samples within groups</text>
<circle cx="766.5" cy="1112.3" r="6.2" fill="#000"/>
<circle cx="784.3" cy="1113.3" r="6.2" fill="#000"/>
<circle cx="784.3" cy="1148.2" r="6.2" fill="#000"/>
<circle cx="748.5" cy="1144.9" r="5.8" fill="#fff" stroke="#000" stroke-width="2.6"/>
<circle cx="766.5" cy="1158.1" r="5.8" fill="#fff" stroke="#000" stroke-width="2.6"/>
<circle cx="802.4" cy="1144.5" r="5.8" fill="#fff" stroke="#000" stroke-width="2.6"/>
<rect x="870.90" y="1010.50" width="12" height="12" fill="#000"/>
<rect x="888.90" y="1000.80" width="12" height="12" fill="#000"/>
<rect x="879.70" y="1029.80" width="12" height="12" fill="#000"/>
<rect x="862.60" y="1082.00" width="11.0" height="11.0" fill="#fff" stroke="#000" stroke-width="2.6" stroke-linejoin="round"/>
<rect x="880.20" y="1083.10" width="11.0" height="11.0" fill="#fff" stroke="#000" stroke-width="2.6" stroke-linejoin="round"/>
<rect x="898.70" y="1082.60" width="11.0" height="11.0" fill="#fff" stroke="#000" stroke-width="2.6" stroke-linejoin="round"/>
<polyline points="915.2,1017.6 922,1017.6 922,1086.4 915.2,1086.4" fill="none" stroke="#222" stroke-width="1.4"/>
<text x="932.3" y="1062" text-anchor="middle" class="sig2">*</text>
</svg>
</body></html>
